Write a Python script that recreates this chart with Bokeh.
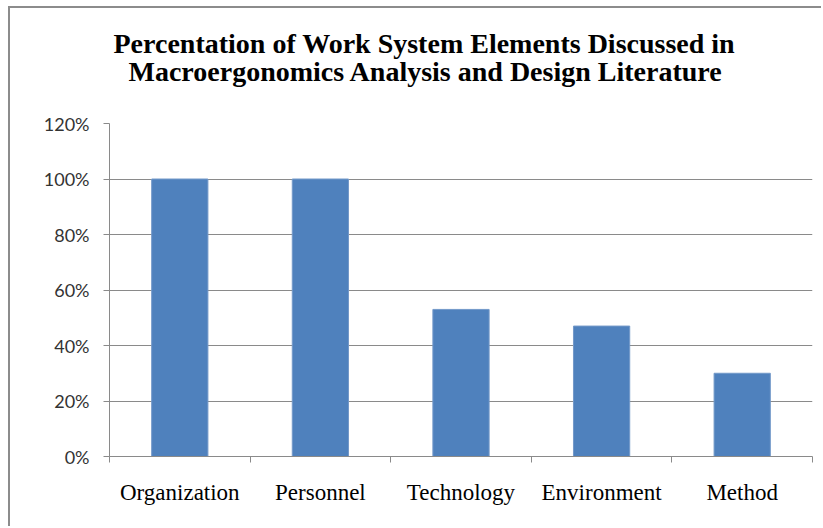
from bokeh.plotting import figure
from bokeh.models import FixedTicker, Title, Range1d, ColumnDataSource
from bokeh.embed import file_html
from bokeh.resources import INLINE

categories = ["Organization", "Personnel", "Technology", "Environment", "Method"]
values = [100, 100, 53, 47, 30]
y_ticks = [0, 20, 40, 60, 80, 100, 120]
y_tick_labels = ["0%", "20%", "40%", "60%", "80%", "100%", "120%"]
title_line1 = "Percentation of Work System Elements Discussed in"
title_line2 = "Macroergonomics Analysis and Design Literature"

xs = [i + 0.5 for i in range(len(categories))]
src = ColumnDataSource(dict(x=xs, top=values, cat=categories))

p = figure(width=813, height=520, output_backend="svg", toolbar_location=None,
           x_range=Range1d(0, len(categories)), y_range=Range1d(0, 120),
           min_border_left=99, min_border_right=11, min_border_top=115, min_border_bottom=72)
p.styles = {"margin-left": "8px", "margin-top": "6px",
            "border-top": "2px solid #8c8c8c", "border-left": "2px solid #8c8c8c"}

p.vbar(x="x", top="top", width=0.4, source=src, fill_color="#4F81BD", line_color="#7399c9", line_width=1)

p.outline_line_color = None
p.background_fill_color = "white"
p.border_fill_color = "white"

# grid
p.xgrid.visible = False
p.ygrid.ticker = FixedTicker(ticks=y_ticks)
p.ygrid.grid_line_color = "#8a8a8a"
p.ygrid.grid_line_width = 1

# y axis
p.yaxis.ticker = FixedTicker(ticks=y_ticks)
p.yaxis.major_label_overrides = {t: l for t, l in zip(y_ticks, y_tick_labels)}
p.yaxis.axis_line_color = "#8a8a8a"
p.yaxis.major_tick_line_color = "#8a8a8a"
p.yaxis.major_tick_out = 6
p.yaxis.major_tick_in = 0
p.yaxis.minor_tick_line_color = None
p.yaxis.major_label_text_font = "Lato"
p.yaxis.major_label_text_font_size = "18px"
p.yaxis.major_label_text_color = "#333333"
p.yaxis.major_label_standoff = 14

# x axis: labels at category centres, ticks at boundaries
p.xaxis.ticker = FixedTicker(ticks=xs, minor_ticks=list(range(len(categories) + 1)))
p.xaxis.major_label_overrides = {x: c for x, c in zip(xs, categories)}
p.xaxis.axis_line_color = "#8a8a8a"
p.xaxis.major_tick_line_color = None
p.xaxis.major_tick_out = 0
p.xaxis.major_tick_in = 0
p.xaxis.minor_tick_line_color = "#8a8a8a"
p.xaxis.minor_tick_out = 6
p.xaxis.minor_tick_in = 0
p.xaxis.major_label_text_font = "Liberation Serif"
p.xaxis.major_label_text_font_size = "23px"
p.xaxis.major_label_text_color = "black"
p.xaxis.major_label_standoff = 17

p.title = None
spacer = Title(text=" ", text_font_size="10px", standoff=27)
t2 = Title(text=title_line2, align="left", text_font="Liberation Serif",
           text_font_size="28px", text_font_style="bold", text_color="black",
           offset=19, standoff=-7)
t1 = Title(text=title_line1, align="left", text_font="Liberation Serif",
           text_font_size="28px", text_font_style="bold", text_color="black",
           offset=4, standoff=-3)
p.add_layout(spacer, "above")
p.add_layout(t2, "above")
p.add_layout(t1, "above")

open("out.html", "w").write(file_html(p, INLINE))
